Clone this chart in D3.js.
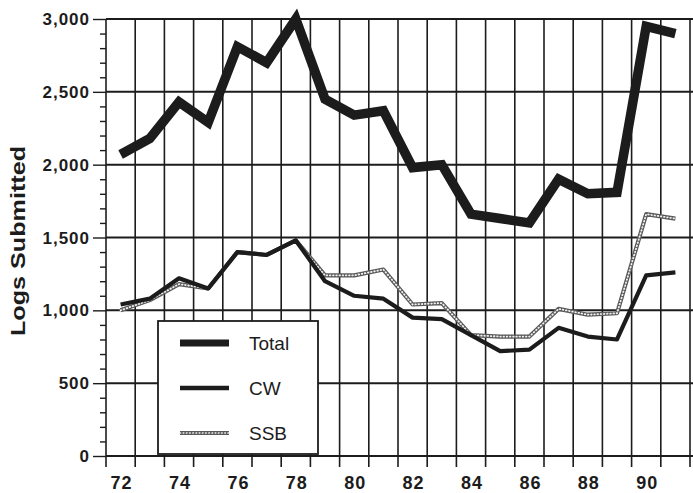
<!doctype html>
<html lang="en">
<head>
<meta charset="utf-8">
<title>Logs Submitted</title>
<style>
body { margin: 0; background: #fff; font-family: "Liberation Sans", Arial, Helvetica, sans-serif; }
svg { display: block; }
</style>
</head>
<body>
<div id="chart"></div>
<script src="https://d3js.org/d3.v7.min.js"></script>
<script>
var years = d3.range(72, 92);
var total = [2070, 2180, 2430, 2290, 2810, 2700, 3000, 2450, 2340, 2370,
             1980, 2000, 1660, 1630, 1600, 1900, 1800, 1810, 2950, 2900];
var cw    = [1040, 1080, 1220, 1150, 1400, 1380, 1480, 1200, 1100, 1080,
              950,  940,  830,  720,  730,  880,  820,  800, 1240, 1260];
var ssb   = [1000, 1070, 1180, 1150, 1400, 1380, 1480, 1240, 1240, 1280,
             1040, 1050,  830,  820,  820, 1010,  970,  980, 1660, 1630];
var yTicks = [0, 500, 1000, 1500, 2000, 2500, 3000];
var xLabels = [72, 74, 76, 78, 80, 82, 84, 86, 88, 90];
var seriesNames = ["Total", "CW", "SSB"];

var width = 693, height = 493;
var svg = d3.select("#chart").append("svg")
    .attr("width", width).attr("height", height);

var x = d3.scaleLinear().domain([71.5, 91.5]).range([106, 690]);
var y = d3.scaleLinear().domain([0, 3000]).range([456, 19]);

var ink = "#1c1c1c";

// vertical grid (year boundaries), running down past the axis as ticks
svg.append("g").selectAll("line")
    .data(d3.range(71.5, 92, 1))
  .enter().append("line")
    .attr("x1", function(d) { return x(d); })
    .attr("x2", function(d) { return x(d); })
    .attr("y1", y(3000))
    .attr("y2", y(0) + 11)
    .attr("stroke", ink)
    .attr("stroke-width", 1.6);

// horizontal grid
svg.append("g").selectAll("line")
    .data(yTicks)
  .enter().append("line")
    .attr("x1", x(71.5))
    .attr("x2", width)
    .attr("y1", function(d) { return y(d); })
    .attr("y2", function(d) { return y(d); })
    .attr("stroke", ink)
    .attr("stroke-width", 2);

// y axis: minor ticks every 100, labels on majors
var yAxis = d3.axisLeft(y)
    .tickValues(d3.range(0, 3001, 100))
    .tickSize(6)
    .tickFormat("");
var gy = svg.append("g").attr("transform", "translate(" + x(71.5) + ",0)").call(yAxis);
gy.select(".domain").remove();
gy.selectAll(".tick line")
    .attr("stroke", ink)
    .attr("stroke-width", 1.4)
    .attr("x2", function(d) { return d % 500 === 0 ? -13 : -6; });

svg.append("g").selectAll("text")
    .data(yTicks)
  .enter().append("text")
    .attr("x", 90)
    .attr("y", function(d) { return y(d) + 6; })
    .attr("text-anchor", "end")
    .style("font-size", "17px")
    .style("font-weight", "bold")
    .style("letter-spacing", "1px")
    .attr("fill", ink)
    .text(function(d) { return d3.format(",")(d); });

// x labels
svg.append("g").selectAll("text")
    .data(xLabels)
  .enter().append("text")
    .attr("x", function(d) { return x(d) + 1; })
    .attr("y", 489)
    .attr("text-anchor", "middle")
    .style("font-size", "18px")
    .style("font-weight", "bold")
    .style("letter-spacing", "1px")
    .attr("fill", ink)
    .text(function(d) { return d; });

// y title
svg.append("text")
    .attr("transform", "translate(25,241) rotate(-90)")
    .attr("text-anchor", "middle")
    .style("font-size", "20px")
    .style("font-weight", "bold")
    .attr("textLength", 190)
    .attr("lengthAdjust", "spacingAndGlyphs")
    .attr("fill", ink)
    .text("Logs Submitted");

var line = d3.line()
    .x(function(d, i) { return x(years[i]); })
    .y(function(d) { return y(d); });

// SSB: beaded grey line
svg.append("path").datum(ssb)
    .attr("d", line).attr("fill", "none")
    .attr("stroke", "#5a5a5a").attr("stroke-width", 4.2)
    .attr("stroke-linejoin", "round");
svg.append("path").datum(ssb)
    .attr("d", line).attr("fill", "none")
    .attr("stroke", "#f0f0f0").attr("stroke-width", 1.8)
    .attr("stroke-linecap", "round")
    .attr("stroke-dasharray", "0.6 2.6");

svg.append("path").datum(cw)
    .attr("d", line).attr("fill", "none")
    .attr("stroke", ink).attr("stroke-width", 4.2)
    .attr("stroke-linejoin", "round");

svg.append("path").datum(total)
    .attr("d", line).attr("fill", "none")
    .attr("stroke", ink).attr("stroke-width", 9.5)
    .attr("stroke-linejoin", "miter");

// legend
var lg = svg.append("g");
lg.append("rect")
    .attr("x", 158).attr("y", 321)
    .attr("width", 160).attr("height", 133)
    .attr("fill", "#fff")
    .attr("stroke", ink).attr("stroke-width", 1.8);

var rows = lg.selectAll("g.row")
    .data(seriesNames)
  .enter().append("g")
    .attr("class", "row")
    .attr("transform", function(d, i) { return "translate(0," + (343 + i * 45) + ")"; });

rows.each(function(d) {
    var g = d3.select(this);
    if (d === "SSB") {
        g.append("line").attr("x1", 180).attr("x2", 229)
            .attr("stroke", "#5a5a5a").attr("stroke-width", 4);
        g.append("line").attr("x1", 180).attr("x2", 229)
            .attr("stroke", "#f0f0f0").attr("stroke-width", 1.6)
            .attr("stroke-linecap", "round")
            .attr("stroke-dasharray", "0.6 2.6");
    } else {
        g.append("line").attr("x1", 180).attr("x2", 229)
            .attr("stroke", ink)
            .attr("stroke-width", d === "Total" ? 7 : 4.5);
    }
    g.append("text")
        .attr("x", 249).attr("y", 7)
        .style("font-size", "19px")
        .attr("fill", ink)
        .text(d);
});
</script>
</body>
</html>
